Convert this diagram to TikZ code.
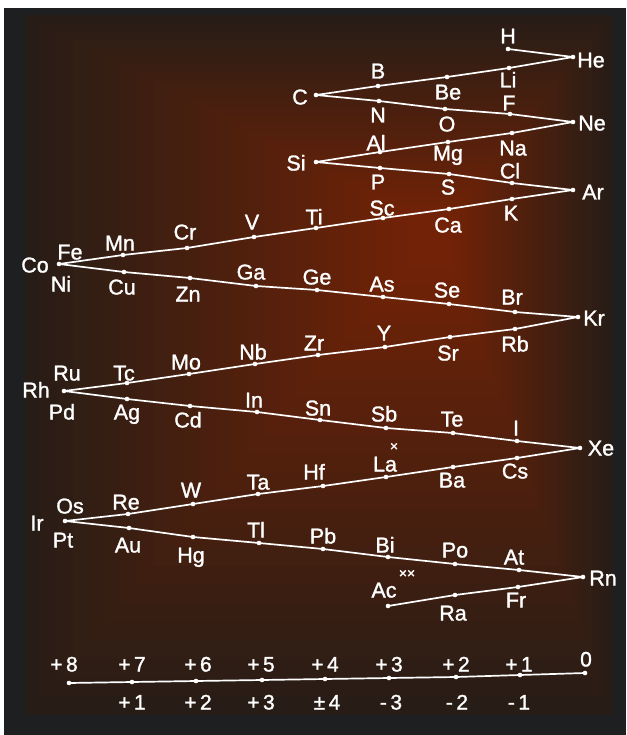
\documentclass[tikz,border=0pt]{standalone}
\usepackage{fontspec}
\setmainfont{Liberation Sans}[BoldFont={Liberation Sans},BoldFeatures={FakeBold=1.3}]
\definecolor{bgouter}{RGB}{30,31,32}
\definecolor{bgedge}{RGB}{40,29,22}
\definecolor{bgcore}{RGB}{114,34,6}
\begin{document}
\begin{tikzpicture}[x=1pt,y=-1pt,
  dot/.style={circle,fill=white,inner sep=0pt,minimum size=4.6pt},
  ln/.style={white,line width=1.7pt,line join=round},
  el/.style={text=white,font=\fontsize{21.5}{21.5}\selectfont\bfseries,inner sep=0pt,text height=15pt,text depth=0pt},
  ox/.style={text=white,font=\fontsize{21}{21}\selectfont\bfseries,inner sep=0pt,text height=15pt,text depth=0pt},
  cross/.style={text=white,font=\fontsize{14}{14}\selectfont\bfseries,inner sep=0pt}]
\useasboundingbox (0,0) rectangle (626,735);
\fill[white] (0,0) rectangle (626,735);
\fill[bgouter] (4,8) rectangle (626,735);
\foreach \i in {0,...,24}{
  \pgfmathsetmacro{\p}{\i*100/24}
  \pgfmathsetmacro{\la}{25+\i*(440-25)/26}
  \pgfmathsetmacro{\ra}{612-\i*(612-440)/26}
  \pgfmathsetmacro{\ta}{15+\i*(230-15)/26}
  \pgfmathsetmacro{\ba}{715-\i*(715-230)/26}
  \fill[bgcore!\p!bgedge] (\la,\ta) rectangle (\ra,\ba);
}
% dots
\foreach \n/\x/\y in {H/508/49,He/573/57,Li/509/68,Be/447/77,B/378/86,C/316/95,N/379/101,O/445/109,F/510/114,Ne/573/122,
Na/512/133,Mg/448/142,Al/380/152,Si/316/162,P/380/168,S/449/174,Cl/512/183,Ar/573/190,K/512/199,Ca/449/209,Sc/383/218,
Ti/316/228,V/254/237,Cr/187/248,Mn/123/255,Co/59/264,Cu/124/272,Zn/190/278,Ga/256/286,Ge/317/290,As/383/297,Se/449/304,
Br/515/312,Kr/578/317,Rb/515/329,Sr/450/337,Y/385/347,Zr/318/355,Nb/255/364,Mo/189/374,Tc/127/383,Rh/64/391,Ag/127/399,
Cd/190/406,In/257/412,Sn/320/420,Sb/386/428,Te/453/433,I/517/441,Xe/580/448,Cs/517/458,Ba/453/467,La/386/477,Hf/323/486,
Ta/258/494,W/193/504,Re/128/514,Ir/65/521,Au/129/528,Hg/193/537,Tl/259/543,Pb/323/549,Bi/388/557,Po/455/564,At/519/570,
Rn/583/577,Fr/518/587,Ra/455/595,Ac/388/606,
b8/69/683,b7/132/682,b6/196/681,b5/262/680,b4/325/679,b3/389/678,b2/456/677,b1/520/675,b0/585/673}
  {\coordinate (\n) at (\x,\y);}
\draw[ln] (H) -- (He) -- (Li) -- (Be) -- (B) -- (C) -- (N) -- (O) -- (F) -- (Ne) -- (Na) -- (Mg) -- (Al) -- (Si)
 -- (P) -- (S) -- (Cl) -- (Ar) -- (K) -- (Ca) -- (Sc) -- (Ti) -- (V) -- (Cr) -- (Mn) -- (Co) -- (Cu) -- (Zn) -- (Ga)
 -- (Ge) -- (As) -- (Se) -- (Br) -- (Kr) -- (Rb) -- (Sr) -- (Y) -- (Zr) -- (Nb) -- (Mo) -- (Tc) -- (Rh) -- (Ag) -- (Cd)
 -- (In) -- (Sn) -- (Sb) -- (Te) -- (I) -- (Xe) -- (Cs) -- (Ba) -- (La) -- (Hf) -- (Ta) -- (W) -- (Re) -- (Ir) -- (Au)
 -- (Hg) -- (Tl) -- (Pb) -- (Bi) -- (Po) -- (At) -- (Rn) -- (Fr) -- (Ra) -- (Ac);
\draw[ln] (b8) -- (b7) -- (b6) -- (b5) -- (b4) -- (b3) -- (b2) -- (b1) -- (b0);
\foreach \n in {H,He,Li,Be,B,C,N,O,F,Ne,Na,Mg,Al,Si,P,S,Cl,Ar,K,Ca,Sc,Ti,V,Cr,Mn,Co,Cu,Zn,Ga,Ge,As,Se,Br,Kr,Rb,Sr,Y,Zr,
 Nb,Mo,Tc,Rh,Ag,Cd,In,Sn,Sb,Te,I,Xe,Cs,Ba,La,Hf,Ta,W,Re,Ir,Au,Hg,Tl,Pb,Bi,Po,At,Rn,Fr,Ra,Ac,b8,b7,b6,b5,b4,b3,b2,b1,b0}
  {\node[dot] (d\n) at (\n) {};}
% element labels
\foreach \n/\x/\y in {H/508/36,He/591/60,Li/508/80,Be/448/92,B/378/71,C/300/97,N/378/115,O/447/124,F/509/103,Ne/592/123,
Na/513/148,Mg/448/153,Al/376/143,Si/296/163,P/378/182,S/448/187,Cl/510/171,Ar/593/192,K/511/213,Ca/448/225,Sc/382/208,
Ti/314/217,V/252/222,Cr/185/232,Mn/120/243,Fe/70/252,Co/35/265,Ni/61/284,Cu/122/287,Zn/188/294,Ga/251/272,Ge/317/277,
As/382/284,Se/447/290,Br/512/297,Kr/594/318,Rb/515/344,Sr/448/353,Y/384/333,Zr/314/343,Nb/253/352,Mo/186/362,Tc/124/373,
Ru/67/373,Rh/36/390,Pd/62/412,Ag/127/412,Cd/188/420,In/254/400,Sn/318/408,Sb/384/414,Te/452/419,I/516/428,Xe/601/448,
Cs/515/471,Ba/452/480,La/385/464,Hf/314/472,Ta/258/482,W/191/490,Re/126/502,Os/70/506,Ir/37/523,Pt/63/540,Au/128/545,
Hg/191/555,Tl/256/530,Pb/323/536,Bi/385/545,Po/455/550,At/514/557,Rn/603/578,Fr/516/600,Ra/453/613,Ac/384/590}
  {\node[el] (l\n) at (\x,\y) {\n};}
\node[cross] (xLa) at (394,447) {×};
\node[cross] (xAc) at (407,574) {××};
% valence labels
\foreach \n/\t/\x in {t8/+\,8/64,t7/+\,7/132,t6/+\,6/198,t5/+\,5/261,t4/+\,4/325,t3/+\,3/389,t2/+\,2/456,t1/+\,1/519}
  {\node[ox] (\n) at (\x,664) {\t};}
\node[ox] (t0) at (586,659) {0};
\foreach \n/\t/\x in {u1/+\,1/132,u2/+\,2/198,u3/+\,3/261,u4/±\,4/327,u5/-\,3/391,u6/-\,2/457,u7/-\,1/519}
  {\node[ox] (\n) at (\x,702) {\t};}
\end{tikzpicture}
\end{document}
